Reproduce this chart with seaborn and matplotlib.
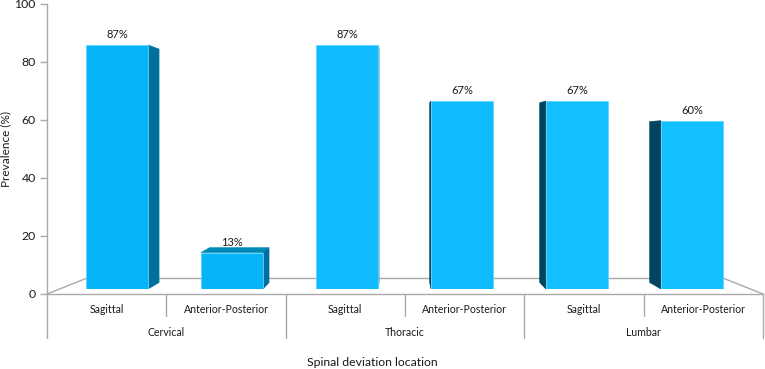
import matplotlib
matplotlib.use("Agg")
import matplotlib.pyplot as plt
from matplotlib.patches import Polygon
from matplotlib.transforms import blended_transform_factory
import numpy as np
import pandas as pd
import seaborn as sns

# values
regions = ["Cervical", "Thoracic", "Lumbar"]
planes = ["Sagittal", "Anterior-Posterior"]
prevalence = [87, 13, 87, 67, 67, 60]
face_colours = ["#05b5f7", "#05b5f7", "#10bcff", "#10bcff", "#12c0ff", "#12c0ff"]
y_ticks = [0, 20, 40, 60, 80, 100]

W, H = 765, 369
GREY = "#a9a9a9"
TEXT = "#1a1a1a"

sns.set_theme(style="white")
plt.rcParams["font.family"] = ["Lato", "DejaVu Sans"]
plt.rcParams["font.size"] = 8.2


def px_axes(fig, left, top, right, bottom):
    return fig.add_axes([left / W, 1 - bottom / H, (right - left) / W, (bottom - top) / H])


groups = [f"{r} {p}" for r in regions for p in planes]
df = pd.DataFrame({"group": groups, "prevalence": prevalence})

fig = plt.figure(figsize=(W / 100, H / 100), dpi=100, facecolor="white")

# -------------------------------------------------------
# Axis frame: y scale, floor, multi-level category labels
# -------------------------------------------------------
ax = px_axes(fig, 47, 4, 763, 294)
ax.set_xlim(0, 6)
ax.set_ylim(0, 100)
sns.despine(ax=ax, top=True, right=True)
for side in ["left", "bottom"]:
    ax.spines[side].set_color(GREY)
    ax.spines[side].set_linewidth(1.0)
ax.set_yticks(y_ticks)
ax.tick_params(axis="y", length=5, width=1, color=GREY, labelsize=8.8, labelcolor=TEXT, pad=3, left=True)
ax.set_xticks(np.arange(6) + 0.5, planes * 3)
ax.tick_params(axis="x", length=0, labelsize=7.6, labelcolor=TEXT, pad=7.5)
ax.set_ylabel("Prevalence (%)", fontsize=8.5, color=TEXT, labelpad=2)
ax.set_xlabel("Spinal deviation location", fontsize=8.8, color=TEXT, labelpad=30)
ax.xaxis.label.set_x(0.455)

trans = blended_transform_factory(ax.transData, ax.transAxes)
for i in range(7):
    low = -44 / 290 if i % 2 == 0 else -22 / 290
    ax.plot([i, i], [0, low], color=GREY, lw=1, transform=trans, clip_on=False)
for i, region in enumerate(regions):
    ax.text(2 * i + 1, -38.5 / 290, region, transform=trans, ha="center", va="center", fontsize=7.6, color=TEXT)

# floor of the 3D box, drawn in the frame axes so the bars stay in front of it
floor = [(47, 294), (86, 278.5), (724, 278.5), (763, 294)]
fx, fy = zip(*[((x - 47) / 716, (294 - y) / 290) for x, y in floor])
ax.plot(fx, fy, color=GREY, lw=1, transform=ax.transAxes, clip_on=False)

# -------------------------------------------------------
# Bars, on the front plane of the 3D box
# -------------------------------------------------------
bar_ax = px_axes(fig, 59.5, 8.5, 749.5, 289)
bar_ax.patch.set_alpha(0)
sns.barplot(
    data=df, x="group", y="prevalence", hue="group", palette=face_colours,
    order=groups, hue_order=groups, legend=False, width=0.54, saturation=1,
    edgecolor="#5fd4ff", linewidth=0.6, zorder=3, ax=bar_ax,
)
bar_ax.set_xlim(-0.5, 5.5)
bar_ax.set_ylim(0, 100)
bar_ax.axis("off")

# perspective: depth faces recede towards a vanishing point
DEPTH, VX, VY = 0.0435, 401, H - 140


def to_back(p):
    return (p[0] + DEPTH * (VX - p[0]), p[1] + DEPTH * (VY - p[1]))


for patch in bar_ax.patches:
    box = patch.get_window_extent()
    x0, x1, y0, y1 = box.x0, box.x1, box.y0, box.y1
    # side face
    edge = x1 if x1 < VX else x0
    side_col = "#006f9b" if x1 < VX else "#00445f"
    front = [(edge, y0), (edge, y1)]
    side = front + [to_back(front[1]), to_back(front[0])]
    bar_ax.add_patch(Polygon(side, transform=None, facecolor=side_col, edgecolor=side_col,
                             lw=0.4, zorder=2, clip_on=False))
    # top face, only for bars below the eye line
    if y1 < VY:
        front = [(x0, y1), (x1, y1)]
        top = front + [to_back(front[1]), to_back(front[0])]
        bar_ax.add_patch(Polygon(top, transform=None, facecolor="#0088b8", edgecolor="#0088b8",
                                 lw=0.4, zorder=2, clip_on=False))

for container in bar_ax.containers:
    bar_ax.bar_label(container, fmt="%g%%", padding=3.5, fontsize=8, color=TEXT)

fig.savefig("out.png", dpi=100)
